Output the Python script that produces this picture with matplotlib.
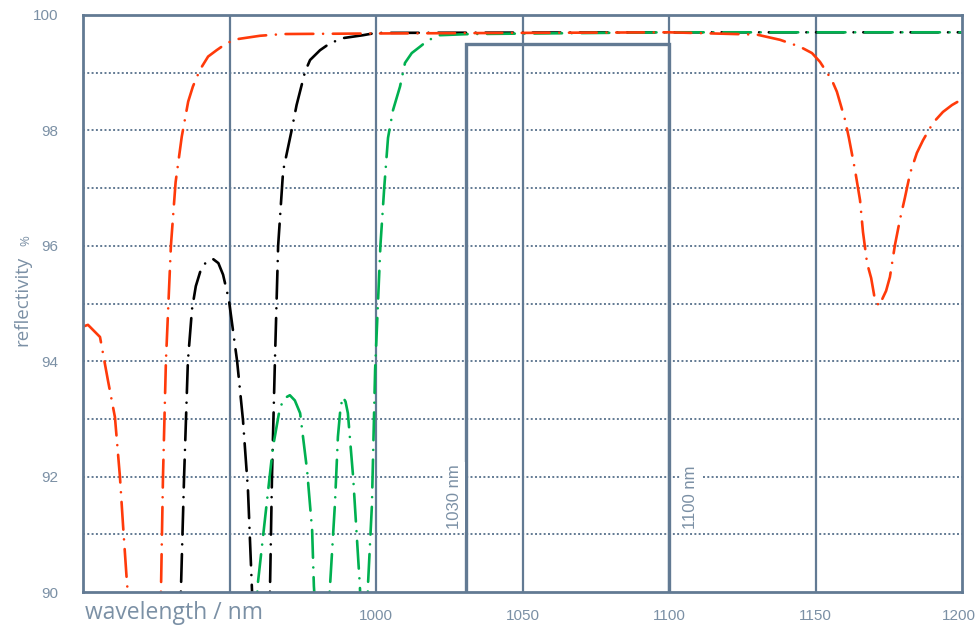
import matplotlib
matplotlib.use("Agg")
import matplotlib.pyplot as plt
import matplotlib.transforms as mtransforms

plt.rcParams['lines.scale_dashes'] = False

# ---- data ----
red_x = [900, 901.7, 905.8, 908.5, 910.9, 912.6, 913.7, 915.0, 917.0, 920.0, 924.5, 926.6, 927.3, 928.3,
         930.0, 931.6, 933.7, 935.9, 937.5, 939.9, 942.7, 945.6, 949.0, 952.4, 960.4, 968.3, 1000,
         1100, 1130, 1137.9, 1144.7, 1148.8,
         1151.5, 1155.6, 1157.3, 1160.1, 1161.4, 1163.5, 1165.2, 1166.2, 1167.6, 1169.0, 1170.3,
         1171.7, 1174.1, 1175.4, 1177.1, 1178.8, 1180.5, 1182.3, 1184.6, 1186.7, 1190.1, 1193.5,
         1196.6, 1200]
red_y = [94.6, 94.63, 94.42, 93.67, 93.03, 92.0, 91.13, 90.16, 89.0, 88.0, 89.0, 90.0, 92.0, 94.0,
         96.0, 97.1, 97.89, 98.5, 98.76, 99.05, 99.28, 99.39, 99.51, 99.58, 99.64, 99.67, 99.68,
         99.7, 99.66, 99.57, 99.45, 99.34,
         99.19, 98.87, 98.67, 98.18, 97.87, 97.31, 96.79, 96.24, 95.7, 95.44, 95.06,
         94.96, 95.22, 95.46, 96.01, 96.45, 96.83, 97.26, 97.61, 97.83, 98.13, 98.32,
         98.44, 98.54]

black_x = [931.0, 933.4, 934.5, 935.8, 937.2, 938.5, 940.0, 942.0, 944.4, 946.2, 947.8, 949.8, 952.6,
           954.6, 956.3, 957.7, 960.5, 963.8, 964.5, 965.5, 966.6, 968.3, 971.2, 972.9, 975.8, 977.5,
           980.9, 984.3, 988.8, 995.6, 1000, 1100, 1200]
black_y = [88.0, 90.0, 92.0, 94.0, 94.9, 95.3, 95.55, 95.72, 95.77, 95.7, 95.5, 95.06, 94.0,
           92.98, 91.77, 90.0, 88.0, 90.0, 92.0, 94.0, 96.0, 97.3, 98.0, 98.44, 99.02, 99.22,
           99.39, 99.51, 99.6, 99.65, 99.69, 99.7, 99.7]

green_x = [957.0, 959.7, 964.8, 967.2, 968.8, 970.6, 972.3, 974.1, 976.5, 978.2, 978.8, 981.5, 984.3,
           986.0, 987.0, 987.9, 988.7, 989.6, 990.4, 992.2, 994.5, 996.0, 997.3, 998.6, 999.7,
           1001.5, 1002.8, 1004.1, 1005.8, 1008.2, 1009.9, 1012.2, 1015.0, 1017.7, 1021.8, 1032.0,
           1100, 1200]
green_y = [88.0, 90.16, 92.5, 93.19, 93.36, 93.41, 93.32, 93.1, 92.1, 91.07, 90.1, 88.0, 90.1,
           91.54, 92.69, 93.2, 93.38, 93.3, 93.1, 91.99, 90.1, 88.0, 90.16, 91.5, 93.85,
           96.0, 97.0, 97.87, 98.35, 98.76, 99.17, 99.34, 99.45, 99.56, 99.65, 99.67,
           99.7, 99.7]

band_lo, band_hi, band_top = 1030.7, 1100, 99.5
band_labels = ["1030 nm", "1100 nm"]
xticks = [1000, 1050, 1100, 1150, 1200]
yticks = [90, 92, 94, 96, 98, 100]

# ---- style ----
C_AX = "#627a93"
C_TXT = "#7b90a5"
C_RED = "#ff3a0a"
C_GREEN = "#00b050"

fig = plt.figure(figsize=(9.77, 6.28), dpi=100)
ax = fig.add_axes([83/977, 36/628, (962-83)/977, (592-15)/628])
ax.set_xlim(900, 1200)
ax.set_ylim(90, 100)

for s in ax.spines.values():
    s.set_color(C_AX)
    s.set_linewidth(2.0)
    s.set_zorder(7)

# grid
for v in [950, 1000, 1050, 1100, 1150]:
    ax.axvline(v, color=C_AX, lw=1.6, zorder=1)
for h in range(91, 100):
    ax.axhline(h, color=C_AX, lw=1.4, ls=(0, (1.4, 1.7)), zorder=1)

# band outline (three sides)
ax.plot([band_lo, band_lo, band_hi, band_hi], [90, band_top, band_top, 90],
        color=C_AX, lw=2.4, solid_joinstyle="miter", zorder=2)
ax.text(1026.8, 91.65, band_labels[0], rotation=90, ha="center", va="center",
        color=C_TXT, fontsize=12, family="Liberation Sans", zorder=3,
        bbox=dict(fc="white", ec="none", pad=2))
ax.text(1107.5, 91.65, band_labels[1], rotation=90, ha="center", va="center",
        color=C_TXT, fontsize=12, family="Liberation Sans", zorder=3,
        bbox=dict(fc="white", ec="none", pad=2))

dash = (0, (20, 7, 0.01, 7))
kw = dict(lw=1.9, ls=dash, dash_capstyle="round", solid_capstyle="round")
ax.plot(black_x, black_y, color="black", zorder=4, **kw)
ax.plot(green_x, green_y, color=C_GREEN, zorder=5, **kw)
ax.plot(red_x, red_y, color=C_RED, zorder=6, **kw)

ax.set_xticks(xticks)
ax.set_yticks(yticks)
ax.tick_params(length=0, colors=C_TXT, labelsize=11)
ax.tick_params(axis="x", pad=12)
ax.tick_params(axis="y", pad=18)
for lab in ax.get_xticklabels() + ax.get_yticklabels():
    lab.set_family("Liberation Sans")
last = ax.get_xticklabels()[-1]
last.set_transform(last.get_transform() + mtransforms.ScaledTranslation(-3/100, 0, fig.dpi_scale_trans))

fig.text(85/977, 1 - 613/628, "wavelength / nm", ha="left", va="center",
         color=C_TXT, fontsize=16.5, family="Open Sans")
fig.text(22/977, 1 - 301/628, "reflectivity", rotation=90, ha="center", va="center",
         color=C_TXT, fontsize=13.5, family="Open Sans")
fig.text(26/977, 1 - 241/628, "%", rotation=90, ha="center", va="center",
         color=C_TXT, fontsize=9.5, family="Open Sans")

fig.savefig("out.png", dpi=100)
